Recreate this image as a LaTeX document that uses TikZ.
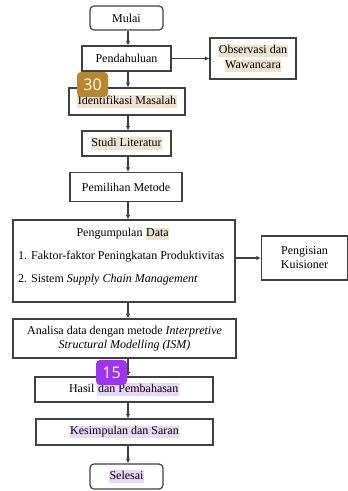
\documentclass[tikz,border=0pt]{standalone}
\usepackage{fontspec}
\setmainfont{Liberation Serif}
\newfontfamily\badgefont{Open Sans}
\usetikzlibrary{arrows.meta,calc}
\definecolor{hlbeige}{HTML}{EFE3CF}
\definecolor{hlpurple}{HTML}{E9D7F8}
\definecolor{badgegold}{HTML}{B8862E}
\definecolor{badgepurple}{HTML}{A032F2}
\definecolor{linegray}{HTML}{404040}
\newcommand{\hlB}[1]{{\setlength{\fboxsep}{0.6pt}\colorbox{hlbeige}{\rule[-2.5pt]{0pt}{9.5pt}#1}}}
\newcommand{\hlP}[1]{{\setlength{\fboxsep}{0.6pt}\colorbox{hlpurple}{\rule[-2.5pt]{0pt}{9.5pt}#1}}}
\begin{document}
\begin{tikzpicture}[x=1pt,y=-1pt,
  every node/.style={font=\fontsize{12}{14}\selectfont},
  box/.style={draw=linegray,line width=1.2pt,inner sep=0pt,align=center},
  rbox/.style={box,rounded corners=4pt},
  txt/.style={inner sep=0pt,align=center},
  arr/.style={draw=linegray,line width=1.1pt,-{Latex[length=4.5pt,width=4.5pt]}},
  badge/.style={rounded corners=4pt,minimum width=31pt,minimum height=25pt,inner sep=0pt,text=white,font=\badgefont\fontsize{16}{18}\selectfont}]
\useasboundingbox (0,0) rectangle (348,491);
\fill[white] (0,0) rectangle (348,491);
\coordinate (axis) at (128,0);
\node[rbox,minimum width=73pt,minimum height=24pt] (mulai) at (126.5,18) {Mulai};
\node[box,minimum width=89pt,minimum height=25pt] (pend) at (126.5,58.5) {Pendahuluan};
\node[box,minimum width=86pt,minimum height=41pt] (obs) at (253,58.5) {\hlB{Observasi dan}\\[1pt]\hlB{Wawancara}};
\node[box,minimum width=116pt,minimum height=27pt] (iden) at (127,101.5) {\hlB{Identifikasi Masalah}};
\node[box,minimum width=89pt,minimum height=25pt] (studi) at (126.5,143.5) {\hlB{Studi Literatur}};
\node[box,minimum width=112pt,minimum height=29pt] (pemi) at (126,187) {Pemilihan Metode};
\node[box,minimum width=222pt,minimum height=82pt] (pd) at (124,261) {};
\node[txt] (pdt) at (123,234) {Pengumpulan \hlB{Data}};
\node[txt,anchor=west] (pd1) at (18,257) {1. Faktor-faktor Peningkatan Produktivitas};
\node[txt,anchor=west] (pd2) at (18,280) {2. Sistem \textit{Supply Chain Management}};
\node[box,minimum width=86pt,minimum height=44pt] (peng) at (304.5,258) {Pengisian\\Kuisioner};
\node[box,minimum width=223pt,minimum height=39pt] (ana) at (124.5,338.5) {Analisa data dengan metode \textit{Interpretive}\\\textit{Structural Modelling (ISM)}};
\node[box,minimum width=178pt,minimum height=25pt] (hasil) at (124,389.5) {Hasil \hlP{dan Pembahasan}};
\node[box,minimum width=177pt,minimum height=26pt] (kes) at (124.5,432) {\hlP{Kesimpulan dan Saran}};
\node[rbox,minimum width=73pt,minimum height=25pt] (sel) at (126.5,476.5) {\hlP{Selesai}};
\draw[arr] (mulai.south -| axis) -- (pend.north -| axis);
\draw[arr] (pend.south -| axis) -- (iden.north -| axis);
\draw[arr] (iden.south -| axis) -- (studi.north -| axis);
\draw[arr] (studi.south -| axis) -- (pemi.north -| axis);
\draw[arr] (pemi.south -| axis) -- (pd.north -| axis);
\draw[arr] (pd.south -| axis) -- (ana.north -| axis);
\draw[arr] (ana.south -| axis) -- (hasil.north -| axis);
\draw[arr] (hasil.south -| axis) -- (kes.north -| axis);
\draw[arr] (kes.south -| axis) -- (sel.north -| axis);
\draw[arr] (pend.east) -- (obs.west);
\draw[arr] (pd.east |- peng.west) -- (peng.west);
\node[badge,fill=badgegold] (b30) at (92.5,84.5) {30};
\node[badge,fill=badgepurple] (b15) at (111.5,372.5) {15};
\end{tikzpicture}
\end{document}
